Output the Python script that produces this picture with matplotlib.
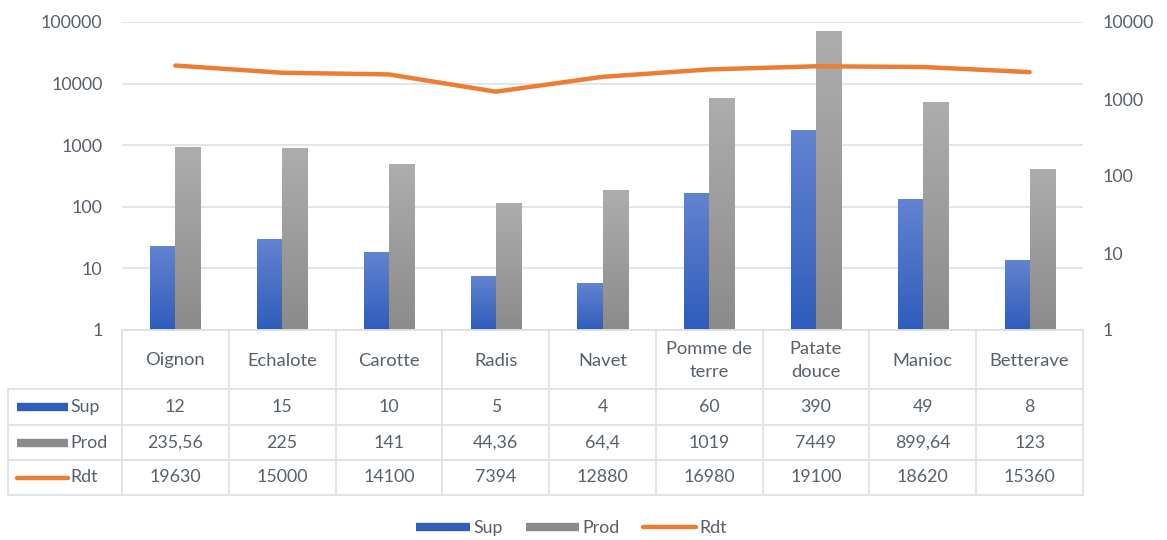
import matplotlib.pyplot as plt
import numpy as np
from matplotlib.lines import Line2D
from matplotlib.colors import LinearSegmentedColormap
from matplotlib.ticker import FixedLocator, NullLocator

plt.rcParams['font.family'] = ['Lato', 'DejaVu Sans']

categories = ["Oignon", "Echalote", "Carotte", "Radis", "Navet",
              "Pomme de\nterre", "Patate\ndouce", "Manioc", "Betterave"]
sup = [12, 15, 10, 5, 4, 60, 390, 49, 8]
prod = [235.56, 225, 141, 44.36, 64.4, 1019, 7449, 899.64, 123]
rdt = [19630, 15000, 14100, 7394, 12880, 16980, 19100, 18620, 15360]

left_ticks = [1, 10, 100, 1000, 10000, 100000]
right_ticks = [1, 10, 100, 1000, 10000]

TXT = '#58606a'
GRID = '#dde1e6'
BLUE = ('#6283d0', '#2f5dbb')
GRAY = ('#adadad', '#8b8b8b')
ORANGE = '#ed7d31'
FS = 12.8

W, H = 1167, 540
fig = plt.figure(figsize=(W / 100, H / 100), dpi=100)
ax = fig.add_axes([122 / W, 1 - 330 / H, (1083 - 122) / W, (330 - 22) / H])
ax2 = ax.twinx()

x = np.arange(len(categories))
for a, ticks in ((ax, left_ticks), (ax2, right_ticks)):
    a.set_yscale('log')
    a.set_ylim(ticks[0], ticks[-1])
    a.yaxis.set_major_locator(FixedLocator(ticks))
    a.yaxis.set_minor_locator(NullLocator())
    a.set_yticklabels([str(t) for t in ticks])
    a.tick_params(length=0, labelsize=FS, labelcolor=TXT, pad=14)
    for s in a.spines.values():
        s.set_visible(False)
ax.set_xlim(-0.5, len(categories) - 0.5)
ax.set_xticks([])
ax.yaxis.grid(True, color=GRID, lw=1.2)
ax.set_axisbelow(True)


def gradient_bars(axis, xs, values, offset, width, colors):
    # invisible bars give the positions, each one is filled with a vertical gradient
    bars = axis.bar(xs + offset, values, width, facecolor='none', lw=0)
    cmap = LinearSegmentedColormap.from_list('g', [colors[1], colors[0]])
    grad = np.linspace(0, 1, 128).reshape(-1, 1)
    to_axes = axis.transData + axis.transAxes.inverted()
    for b, v in zip(bars, values):
        x0 = b.get_x()
        x1 = x0 + b.get_width()
        (ax0, _), (ax1, ay1) = to_axes.transform([(x0, v), (x1, v)])
        axis.imshow(grad, cmap=cmap, origin='lower', aspect='auto',
                    extent=(ax0, ax1, 0, ay1), transform=axis.transAxes,
                    interpolation='bilinear', zorder=2)
    return bars


w = 0.235
gradient_bars(ax2, x, sup, -w / 2, w, BLUE)
gradient_bars(ax2, x, prod, w / 2, w, GRAY)
ax2.set_xlim(-0.5, len(categories) - 0.5)
ax2.set_ylim(right_ticks[0], right_ticks[-1])

# Rdt is read on the left scale but drawn above the bars
ax2.plot(x, rdt, color=ORANGE, lw=3.2, solid_capstyle='round',
         transform=ax.transData, zorder=3)

# data table underneath the plot
tab = fig.add_axes([0, 0, 1, 1])
tab.set_xlim(0, W)
tab.set_ylim(H, 0)
tab.axis('off')
to_px = ax.transData + tab.transData.inverted()
edges = [to_px.transform((e, 1))[0] for e in np.arange(len(categories) + 1) - 0.5]
centers = [to_px.transform((c, 1))[0] for c in x]

head_top, rows = 330, [389, 425, 460, 495]
x_left = 8
lkw = dict(color=GRID, lw=1.3)
tab.plot([edges[0], edges[-1]], [head_top, head_top], **lkw)
for yy in rows:
    tab.plot([x_left, edges[-1]], [yy, yy], **lkw)
for e in edges:
    tab.plot([e, e], [head_top, rows[-1]], **lkw)
tab.plot([x_left, x_left], [rows[0], rows[-1]], **lkw)

for cx, name in zip(centers, categories):
    tab.text(cx, (head_top + rows[0]) / 2 + 1, name, ha='center', va='center',
             fontsize=FS + 0.4, color=TXT, linespacing=1.6)


def fmt(v):
    return f"{v:g}".replace('.', ',')


series = [("Sup", sup, dict(color=BLUE[1], lw=6, solid_capstyle='butt')),
          ("Prod", prod, dict(color=GRAY[1], lw=6, solid_capstyle='butt')),
          ("Rdt", rdt, dict(color=ORANGE, lw=3.2, solid_capstyle='round'))]
handles = []
for i, (label, vals, style) in enumerate(series):
    cy = (rows[i] + rows[i + 1]) / 2
    tab.plot([17, 68], [cy, cy], **style)
    tab.text(70, cy, label, ha='left', va='center', fontsize=FS, color=TXT)
    for cx, v in zip(centers, vals):
        tab.text(cx, cy, fmt(v), ha='center', va='center', fontsize=FS, color=TXT)
    handles.append(Line2D([], [], **style))

fig.legend(handles, [s[0] for s in series], loc='center',
           bbox_to_anchor=(0.49, 1 - 528 / H), ncol=3, frameon=False,
           fontsize=FS, labelcolor=TXT, handlelength=3.0, handletextpad=0.2,
           columnspacing=1.3)

fig.savefig('out.png', dpi=100)
